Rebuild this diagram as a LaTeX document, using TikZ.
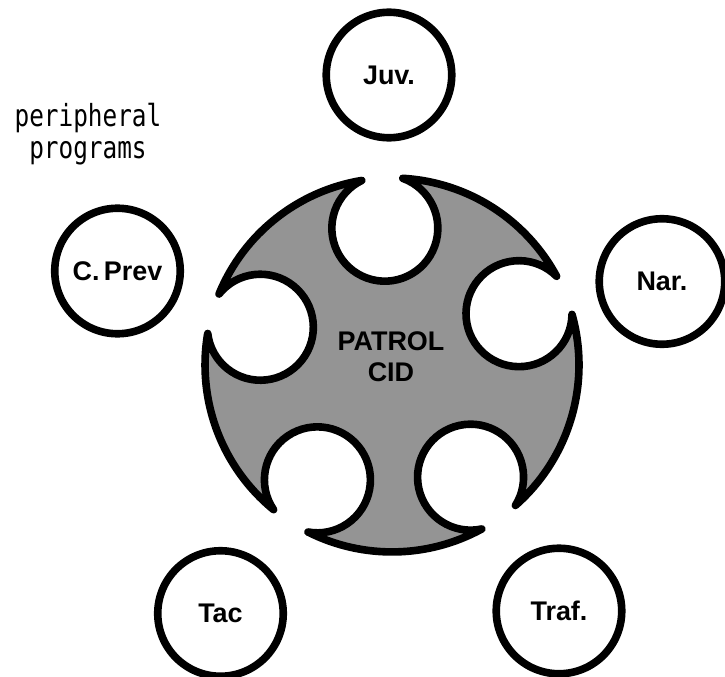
\documentclass[tikz,border=0pt]{standalone}
\usepackage{fontspec}
\setmainfont{Liberation Sans}
\newfontfamily\typefont[FakeStretch=0.8]{DejaVu Sans Mono}

\tikzstyle{prog} = [circle, minimum size=3.765cm, inner sep=0pt, draw=black, line width=6.5pt, font=\fontsize{23}{26}\selectfont\bfseries]
\tikzstyle{hub} = [draw=black, line width=6.5pt, line join=round, fill=black!42]
\tikzstyle{hubtext} = [font=\fontsize{23}{26.4}\selectfont\bfseries, align=center]
\tikzstyle{note} = [font=\typefont\fontsize{26}{27}\selectfont, align=center, inner sep=0pt]

\begin{document}
\begin{tikzpicture}

\useasboundingbox (-11.76,-9.36) rectangle (9.99,10.95);

% central disk with five cut-outs
\draw[hub] (28.3:5.61)
  \foreach \a/\b in {22/93, 93/164, 164/237, 237/305, 305/382} {
    arc[start angle=\a+6.3, end angle=\b-6.3, radius=5.61]
    arc[start angle=\b-22.76, end angle=\b+22.76-360, radius=1.59]
  } -- cycle;

\node (patrol) [hubtext, xshift=-0.03cm, yshift=0.255cm] {PATROL\\CID};

\node (juv) [prog, xshift=-0.09cm, yshift=8.7cm] {Juv.};

\node (cprev) [prog, xshift=-8.235cm, yshift=2.82cm] {C.\,Prev};

\node (nar) [prog, xshift=8.1cm, yshift=2.505cm] {Nar.};

\node (tac) [prog, xshift=-5.145cm, yshift=-7.455cm] {Tac};

\node (traf) [prog, xshift=5.01cm, yshift=-7.38cm] {Traf.};

\node (peripheral) [note, xshift=-9.12cm, yshift=6.93cm] {peripheral\\programs};

\end{tikzpicture}
\end{document}
